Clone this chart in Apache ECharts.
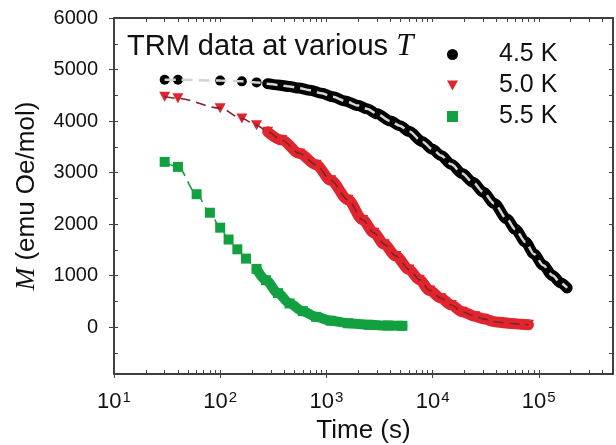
<!DOCTYPE html>
<html>
<head>
<meta charset="utf-8">
<script src="https://cdn.jsdelivr.net/npm/echarts@6/dist/echarts.min.js"></script>
<style>html,body{margin:0;padding:0;background:#fff}#chart{width:616px;height:445px}</style>
</head>
<body>
<div id="chart"></div>
<script>
// ---- data ----
const seriesNames = ['4.5 K', '5.0 K', '5.5 K'];
const timesBlack  = [30, 40, 100, 160, 220, 280, 350, 450, 550, 700, 900, 1150, 1500, 2000, 2400, 3000, 4000, 4900, 6000, 8000, 10000, 12000, 15000, 19000, 24000, 30000, 38000, 50000, 60000, 75000, 90000, 110000, 135000, 160000, 185000];
const valuesBlack = [4800, 4800, 4785, 4770, 4750, 4725, 4700, 4670, 4640, 4600, 4540, 4470, 4390, 4300, 4240, 4140, 4000, 3910, 3800, 3600, 3450, 3330, 3160, 2980, 2810, 2620, 2400, 2100, 1900, 1650, 1420, 1200, 1000, 860, 760];
const timesRed    = [30, 40, 100, 160, 220, 280, 380, 560, 800, 1100, 1600, 2200, 2800, 3500, 4500, 6000, 7500, 9400, 12000, 15000, 19000, 25000, 30000, 40000, 55000, 68000, 80000];
const valuesRed   = [4470, 4440, 4250, 4050, 3920, 3790, 3630, 3370, 3150, 2850, 2470, 2080, 1830, 1610, 1380, 1120, 920, 710, 560, 430, 300, 210, 160, 100, 70, 55, 45];
const timesGreen  = [30, 40, 60, 80, 100, 120, 145, 175, 220, 270, 350, 450, 600, 800, 1100, 1600, 2500, 3800, 5200];
const valuesGreen = [3207, 3110, 2580, 2220, 1930, 1700, 1510, 1330, 1130, 910, 660, 460, 310, 200, 125, 75, 45, 30, 25];
const xTickExponents = [1, 2, 3, 4, 5];
const xMinorMultipliers = [2, 3, 4, 5, 6, 7, 8, 9];
const yTickLabels = [0, 1000, 2000, 3000, 4000, 5000, 6000];
const yMinorTicks = [-500, 0, 500, 1000, 1500, 2000, 2500, 3000, 3500, 4000, 4500, 5000, 5500, 6000];
const xMin = 10, xMax = 500000, yMin = -910, yMax = 6000;

// ---- styling ----
const SANS = "'Liberation Sans', Arial, Helvetica, sans-serif";
const SERIF = "'Liberation Serif', 'Times New Roman', serif";
const colors = ['#000000', '#e1252f', '#12a040'];
const fitColors = ['#d4d4d4', '#7e2424', '#12a040'];
const fitDash = [[11, 6], [10, 6], [10, 6]];
const symbols = ['circle', 'path://M0,0 L10,0 L5,9 Z', 'rect'];
const symbolSizes = [10, [11, 10], 10];
const bandWidths = [11, 11, 10];
const bandStart = [5, 5, 8];

const pairs = (t, v) => t.map((x, i) => [x, v[i]]);
const datasets = [pairs(timesBlack, valuesBlack), pairs(timesRed, valuesRed), pairs(timesGreen, valuesGreen)];

// tick positions in log space for the overlay value axes
const logMin = Math.log10(xMin), logMax = Math.log10(xMax);
const xAllTicks = [];
for (let e = 1; e <= 5; e++) {
  xAllTicks.push(e);
  xMinorMultipliers.forEach(m => { const p = e + Math.log10(m); if (p <= logMax) xAllTicks.push(p); });
}

const series = [];
datasets.forEach((d, k) => {
  series.push({
    name: 'band' + k, type: 'line', data: d.slice(bandStart[k]), showSymbol: false, silent: true,
    smooth: 0.3, smoothMonotone: 'x',
    lineStyle: { color: colors[k], width: bandWidths[k], cap: 'round', join: 'round' }, z: 1, animation: false
  });
});
datasets.forEach((d, k) => {
  series.push({
    name: seriesNames[k], type: 'scatter', data: d, symbol: symbols[k], symbolSize: symbolSizes[k],
    itemStyle: { color: colors[k], opacity: 1 }, z: 2, animation: false
  });
});
datasets.forEach((d, k) => {
  series.push({
    name: 'fit' + k, type: 'line', data: d, showSymbol: false, silent: true, smooth: 0.3, smoothMonotone: 'x',
    lineStyle: { color: fitColors[k], width: k === 0 ? 2.5 : 1.6, type: fitDash[k] }, z: 3, animation: false
  });
});

const gridRect = { left: 114, right: 3, top: 18, bottom: 71, containLabel: false, outerBoundsMode: 'none' };
const tickLine = { color: '#444', width: 1 };

const option = {
  backgroundColor: '#ffffff',
  animation: false,
  title: {
    left: 127, top: 31, padding: 0,
    text: '{a|TRM data at various }{i|T}',
    textStyle: {
      fontWeight: 'normal',
      rich: {
        a: { fontSize: 29, fontFamily: SANS, fontWeight: 'normal', color: '#111' },
        i: { fontSize: 31, fontFamily: SERIF, fontStyle: 'italic', fontWeight: 'normal', color: '#111' }
      }
    }
  },
  legend: {
    data: seriesNames, orient: 'vertical', left: 447, top: 42, padding: 0,
    itemWidth: 11, itemHeight: 11, itemGap: 6,
    formatter: n => '{t|' + n + '}',
    textStyle: { rich: { t: { fontSize: 25, fontFamily: SANS, color: '#111', lineHeight: 25, padding: [0, 0, 0, 36] } } }
  },
  grid: [Object.assign({}, gridRect), Object.assign({}, gridRect)],
  xAxis: [
    {
      gridIndex: 0, type: 'log', logBase: 10, min: xMin, max: xMax, position: 'bottom',
      axisLine: { show: true, onZero: false, lineStyle: { color: '#000', width: 1.5 } },
      axisTick: { show: true, inside: false, length: 4, lineStyle: tickLine },
      splitLine: { show: false }, minorTick: { show: false },
      axisLabel: {
        margin: 16, showMaxLabel: false,
        formatter: v => {
          const lg = Math.log10(v), e = Math.round(lg);
          if (Math.abs(lg - e) > 1e-6 || xTickExponents.indexOf(e) < 0) return '';
          return '{b|10}{s|' + e + '}';
        },
        rich: {
          b: { fontSize: 22, fontFamily: SANS, color: '#111' },
          s: { fontSize: 15, fontFamily: SANS, color: '#111', padding: [0, 0, 9, 1] }
        }
      },
      name: 'Time (s)', nameLocation: 'middle', nameGap: 37,
      nameTextStyle: { fontSize: 26, fontFamily: SANS, color: '#111' }
    },
    {
      gridIndex: 0, type: 'value', min: logMin, max: logMax, position: 'top',
      axisLine: { show: true, onZero: false, lineStyle: { color: '#000', width: 1.5 } },
      axisTick: { show: true, inside: true, length: 4, customValues: xAllTicks, lineStyle: tickLine },
      axisLabel: { show: false }, splitLine: { show: false }
    },
    {
      gridIndex: 1, type: 'value', min: logMin, max: logMax, position: 'bottom',
      axisLine: { show: false, onZero: false },
      axisTick: { show: true, inside: true, length: 4, customValues: xAllTicks, lineStyle: tickLine },
      axisLabel: { show: false }, splitLine: { show: false }
    }
  ],
  yAxis: [
    {
      gridIndex: 0, type: 'value', min: yMin, max: yMax, position: 'left',
      axisLine: { show: true, onZero: false, lineStyle: { color: '#000', width: 1.5 } },
      axisTick: { show: true, inside: false, length: 5, customValues: yTickLabels, lineStyle: tickLine },
      axisLabel: { margin: 16, customValues: yTickLabels, formatter: v => String(v), fontSize: 20, fontFamily: SANS, color: '#111' },
      splitLine: { show: false },
      name: '{i|M} (emu Oe/mol)', nameLocation: 'middle', nameGap: 74,
      nameTextStyle: {
        fontSize: 26, fontFamily: SANS, color: '#111',
        rich: { i: { fontSize: 27, fontFamily: SERIF, fontStyle: 'italic', color: '#111' } }
      }
    },
    {
      gridIndex: 0, type: 'value', min: yMin, max: yMax, position: 'right',
      axisLine: { show: true, onZero: false, lineStyle: { color: '#000', width: 1.5 } },
      axisTick: { show: true, inside: true, length: 4, customValues: yMinorTicks, lineStyle: tickLine },
      axisLabel: { show: false }, splitLine: { show: false }
    },
    {
      gridIndex: 1, type: 'value', min: yMin, max: yMax, position: 'left',
      axisLine: { show: false, onZero: false },
      axisTick: { show: true, inside: true, length: 4, customValues: yMinorTicks, lineStyle: tickLine },
      axisLabel: { show: false }, splitLine: { show: false }
    }
  ],
  series: series
};

const chart = echarts.init(document.getElementById('chart'), null, { renderer: 'canvas' });
chart.setOption(option);
</script>
</body>
</html>
